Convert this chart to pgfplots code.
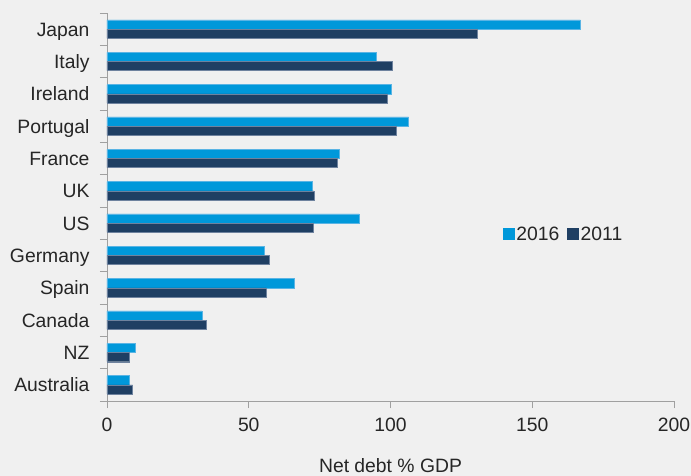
\documentclass[border=0pt]{standalone}
\usepackage{fontspec}
\setmainfont{Liberation Sans}
\usepackage{pgfplots}
\pgfplotsset{compat=1.18}
\definecolor{bg}{HTML}{F0F0F0}
\definecolor{lightb}{HTML}{0098DA}
\definecolor{darkb}{HTML}{1F3F63}
\definecolor{axgray}{HTML}{A0A0A0}
\definecolor{txt}{HTML}{262626}
\begin{document}
\begin{tikzpicture}[font=\fontsize{19.4}{23}\selectfont]
\path[fill=bg, use as bounding box] (-107bp,-75bp) rectangle (584bp,401bp);
\begin{axis}[
  at={(0,0)}, anchor=south west,
  scale only axis, width=567bp, height=388bp,
  xmin=0, xmax=200, ymin=-0.5, ymax=11.5,
  axis lines=left,
  axis line style={-, draw=axgray, line width=0.8bp},
  tick align=outside,
  xtick={0,50,100,150,200},
  ytick={0,...,11},
  yticklabels={Australia,NZ,Canada,Spain,Germany,US,UK,France,Portugal,Ireland,Italy,Japan},
  minor ytick={-0.5,0.5,...,11.5},
  major tick length=7bp, minor tick length=7bp,
  every tick/.style={draw=axgray, line width=0.8bp},
  major y tick style={draw=none},
  /pgf/number format/assume math mode=true,
  tick label style={text=txt, font=\fontsize{19.4}{23}\selectfont},
  xticklabel style={yshift=-6bp},
  yticklabel style={anchor=base east, yshift=-7bp, xshift=-7bp},
  xlabel={Net debt \% GDP},
  xlabel style={at={(axis description cs:0.5,0)}, anchor=base, yshift=-71bp, text=txt, font=\fontsize{19.4}{23}\selectfont},
  legend columns=2,
  legend style={at={(0.698,0.430)}, anchor=west, draw=none, fill=none, inner sep=0pt, text=txt,
    font=\fontsize{19.4}{23}\selectfont, /tikz/every even column/.append style={column sep=6bp}},
]
\addplot[xbar, bar width=9.2bp, bar shift=4.6bp, fill=lightb, draw={rgb,255:red,90;green,180;blue,228}, line width=0.4bp,
  legend image code/.code={\fill[lightb] (0bp,-5.5bp) rectangle (11bp,5.5bp);}]
  coordinates {(7.8,0) (9.9,1) (33.5,2) (66.0,3) (55.5,4) (88.9,5) (72.5,6) (82.0,7) (106.4,8) (100.4,9) (94.8,10) (167.0,11)};
\addlegendentry{2016}
\addplot[xbar, bar width=9.2bp, bar shift=-4.6bp, fill=darkb, draw={rgb,255:red,110;green,130;blue,158}, line width=0.4bp,
  legend image code/.code={\fill[darkb] (0bp,-5.5bp) rectangle (11bp,5.5bp);}]
  coordinates {(9.0,0) (7.9,1) (35.0,2) (56.1,3) (57.2,4) (72.6,5) (73.0,6) (81.1,7) (101.9,8) (98.9,9) (100.5,10) (130.6,11)};
\addlegendentry{2011}
\end{axis}
\end{tikzpicture}
\end{document}
